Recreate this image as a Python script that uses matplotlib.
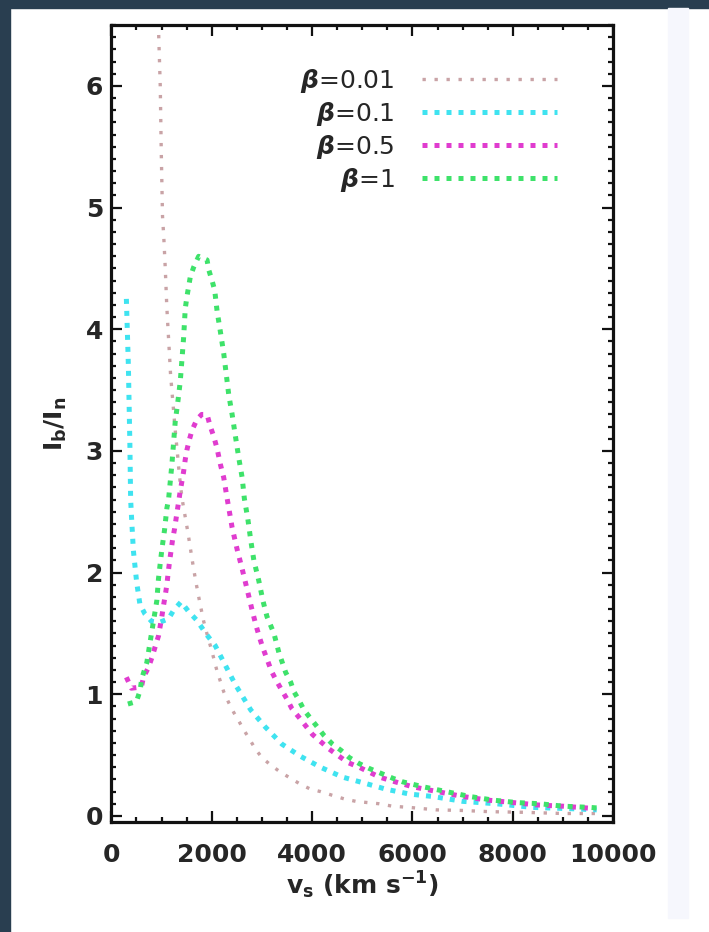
import numpy as np
import matplotlib
matplotlib.use("Agg")
import matplotlib.pyplot as plt
from matplotlib.patches import Rectangle
from matplotlib.ticker import MultipleLocator

plt.rcParams['font.family'] = ['DejaVu Sans']
plt.rcParams['mathtext.fontset'] = 'custom'
plt.rcParams['mathtext.rm'] = 'DejaVu Sans:bold'
plt.rcParams['mathtext.it'] = 'DejaVu Sans:italic:bold'
plt.rcParams['mathtext.bf'] = 'DejaVu Sans:bold'
plt.rcParams['mathtext.default'] = 'regular'

# values (v_s in km/s, I_b/I_n)
v_001 = [900, 940, 975, 995, 1020, 1045, 1075, 1105, 1130, 1155, 1180, 1210, 1245,
         1280, 1315, 1350, 1385, 1425, 1480, 1530, 1575, 1640, 1700, 1760, 1840,
         1910, 2000, 2100, 2240, 2340, 2440, 2540, 2650, 2770, 2870, 3000, 3170,
         3370, 3570, 3770, 3970, 4170, 4400, 4640, 4870, 5100, 5340, 5600, 5940,
         6470, 7000, 7540, 8200, 9000, 9700]
i_001 = [7.2, 6.47, 6.0, 5.46, 4.93, 4.76, 4.50, 4.19, 4.0, 3.82, 3.63, 3.48, 3.31,
         3.14, 2.99, 2.83, 2.69, 2.57, 2.44, 2.32, 2.20, 2.03, 1.89, 1.76, 1.60,
         1.49, 1.36, 1.20, 1.02, 0.93, 0.85, 0.78, 0.70, 0.62, 0.55, 0.48, 0.42,
         0.36, 0.31, 0.26, 0.22, 0.20, 0.17, 0.14, 0.12, 0.11, 0.10, 0.08, 0.07,
         0.05, 0.045, 0.035, 0.03, 0.02, 0.02]

v_01 = [300, 340, 370, 385, 410, 440, 505, 570, 670, 800, 950, 1140, 1240, 1390,
        1540, 1700, 1900, 2070, 2270, 2470, 2780, 3070, 3400, 3770, 4170, 4600,
        5040, 5470, 5940, 6400, 7000, 7670, 8400, 9140, 9670]
i_01 = [4.25, 3.7, 3.05, 2.6, 2.4, 2.18, 1.92, 1.74, 1.66, 1.60, 1.59, 1.62, 1.69,
        1.76, 1.68, 1.61, 1.49, 1.40, 1.24, 1.08, 0.87, 0.73, 0.59, 0.49, 0.40,
        0.32, 0.27, 0.22, 0.18, 0.16, 0.12, 0.10, 0.07, 0.06, 0.05]

v_05 = [300, 400, 600, 640, 740, 807, 873, 940, 1007, 1040, 1073, 1107, 1130, 1160,
        1190, 1220, 1260, 1307, 1340, 1373, 1440, 1473, 1507, 1553, 1607, 1707,
        1800, 1907, 1973, 2040, 2107, 2173, 2240, 2307, 2407, 2507, 2607, 2707,
        2800, 2880, 2950, 3020, 3110, 3190, 3290, 3400, 3500, 3600, 3740, 3873,
        4007, 4173, 4340, 4507, 4707, 4940, 5140, 5340, 5573, 6000, 6500, 7000,
        7500, 8000, 8500, 9000, 9650]
i_05 = [1.14, 1.05, 1.06, 1.14, 1.22, 1.30, 1.39, 1.48, 1.64, 1.73, 1.81, 1.90,
        1.99, 2.09, 2.18, 2.27, 2.36, 2.49, 2.58, 2.67, 2.83, 2.93, 3.01, 3.09,
        3.17, 3.26, 3.30, 3.30, 3.20, 3.12, 3.02, 2.89, 2.78, 2.61, 2.37, 2.19,
        2.03, 1.86, 1.70, 1.57, 1.47, 1.38, 1.28, 1.19, 1.11, 1.03, 0.96, 0.88,
        0.81, 0.74, 0.67, 0.61, 0.55, 0.50, 0.44, 0.40, 0.36, 0.32, 0.29, 0.24,
        0.20, 0.16, 0.13, 0.11, 0.09, 0.08, 0.06]

v_1 = [330, 500, 573, 607, 707, 773, 840, 907, 940, 973, 1007, 1060, 1107, 1140,
       1207, 1273, 1327, 1373, 1407, 1440, 1473, 1507, 1540, 1573, 1640, 1740,
       1907, 1940, 2007, 2060, 2107, 2173, 2240, 2287, 2340, 2407, 2473, 2540,
       2607, 2650, 2720, 2780, 2840, 2940, 3020, 3100, 3170, 3240, 3340, 3407,
       3473, 3573, 3640, 3740, 3840, 3973, 4107, 4240, 4407, 4573, 4740, 4940,
       5140, 5373, 5607, 5807, 6207, 6673, 7140, 7607, 8073, 8540, 9007, 9540,
       9700]
i_1 = [0.92, 0.94, 1.03, 1.13, 1.26, 1.43, 1.60, 1.77, 1.95, 2.07, 2.19, 2.35,
       2.53, 2.60, 2.89, 3.24, 3.41, 3.57, 3.75, 3.93, 4.17, 4.27, 4.35, 4.43,
       4.51, 4.60, 4.57, 4.49, 4.40, 4.32, 4.15, 3.98, 3.80, 3.64, 3.46, 3.30,
       3.12, 2.94, 2.78, 2.61, 2.44, 2.26, 2.10, 1.93, 1.77, 1.64, 1.57, 1.50,
       1.34, 1.26, 1.18, 1.10, 1.02, 0.95, 0.87, 0.80, 0.73, 0.66, 0.59, 0.54,
       0.48, 0.43, 0.39, 0.35, 0.31, 0.28, 0.24, 0.20, 0.16, 0.13, 0.11, 0.10,
       0.08, 0.07, 0.065]

labels = [r'$\mathit{\beta}$=0.01', r'$\mathit{\beta}$=0.1',
          r'$\mathit{\beta}$=0.5', r'$\mathit{\beta}$=1']
colors = ['#c9a3a6', '#3fe3f0', '#e03ccf', '#3ee26a']

fig = plt.figure(figsize=(7.09, 9.32), dpi=100)
fig.patch.set_facecolor('white')
# dark frame of the screenshot + faint strip on the right
fig.patches.append(Rectangle((0, 0.991), 1, 0.009, transform=fig.transFigure,
                             color='#293e50', zorder=0))
fig.patches.append(Rectangle((0, 0), 0.014, 1, transform=fig.transFigure,
                             color='#293e50', zorder=0))
fig.patches.append(Rectangle((0.942, 0.015), 0.028, 0.976, transform=fig.transFigure,
                             color='#f6f7fd', zorder=0))

ax = fig.add_axes([0.157, 0.118, 0.708, 0.855])

ax.plot(v_001, i_001, color=colors[0], lw=2.4, linestyle=(0, (1, 2.6)), label=labels[0])
ax.plot(v_01, i_01, color=colors[1], lw=3.6, linestyle=(0, (1, 1.4)), label=labels[1])
ax.plot(v_05, i_05, color=colors[2], lw=3.6, linestyle=(0, (1, 1.4)), label=labels[2])
ax.plot(v_1, i_1, color=colors[3], lw=3.6, linestyle=(0, (1, 1.4)), label=labels[3])

ax.set_xlim(0, 10000)
ax.set_ylim(-0.05, 6.5)
ax.xaxis.set_major_locator(MultipleLocator(2000))
ax.xaxis.set_minor_locator(MultipleLocator(500))
ax.yaxis.set_major_locator(MultipleLocator(1))
ax.yaxis.set_minor_locator(MultipleLocator(0.1))

ax.tick_params(which='both', direction='in', top=True, right=True, colors='#111111')
ax.tick_params(which='major', length=8, width=1.6)
ax.tick_params(which='minor', length=3.5, width=1.6)
ax.tick_params(axis='x', pad=15, labelsize=18)
ax.tick_params(axis='y', pad=6, labelsize=18)
for lab in ax.get_xticklabels() + ax.get_yticklabels():
    lab.set_fontweight('bold')
    lab.set_color('#262626')
for sp in ax.spines.values():
    sp.set_linewidth(2.3)
    sp.set_color('#111111')

ax.set_xlabel(r'$v_s$ (km s$^{-1}$)', fontsize=18, fontweight='bold',
              color='#262626', labelpad=2)
ax.set_ylabel(r'$I_b/I_n$', fontsize=18, fontweight='bold', color='#262626',
              labelpad=12)

leg = ax.legend(loc='upper right', bbox_to_anchor=(0.888, 0.948), frameon=False,
                markerfirst=False, handlelength=5.4, handletextpad=1.1,
                labelspacing=0.2, borderpad=0, borderaxespad=0,
                prop={'size': 18})
for t in leg.get_texts():
    t.set_color('#262626')

fig.savefig('out.png', dpi=100, facecolor=fig.get_facecolor())
